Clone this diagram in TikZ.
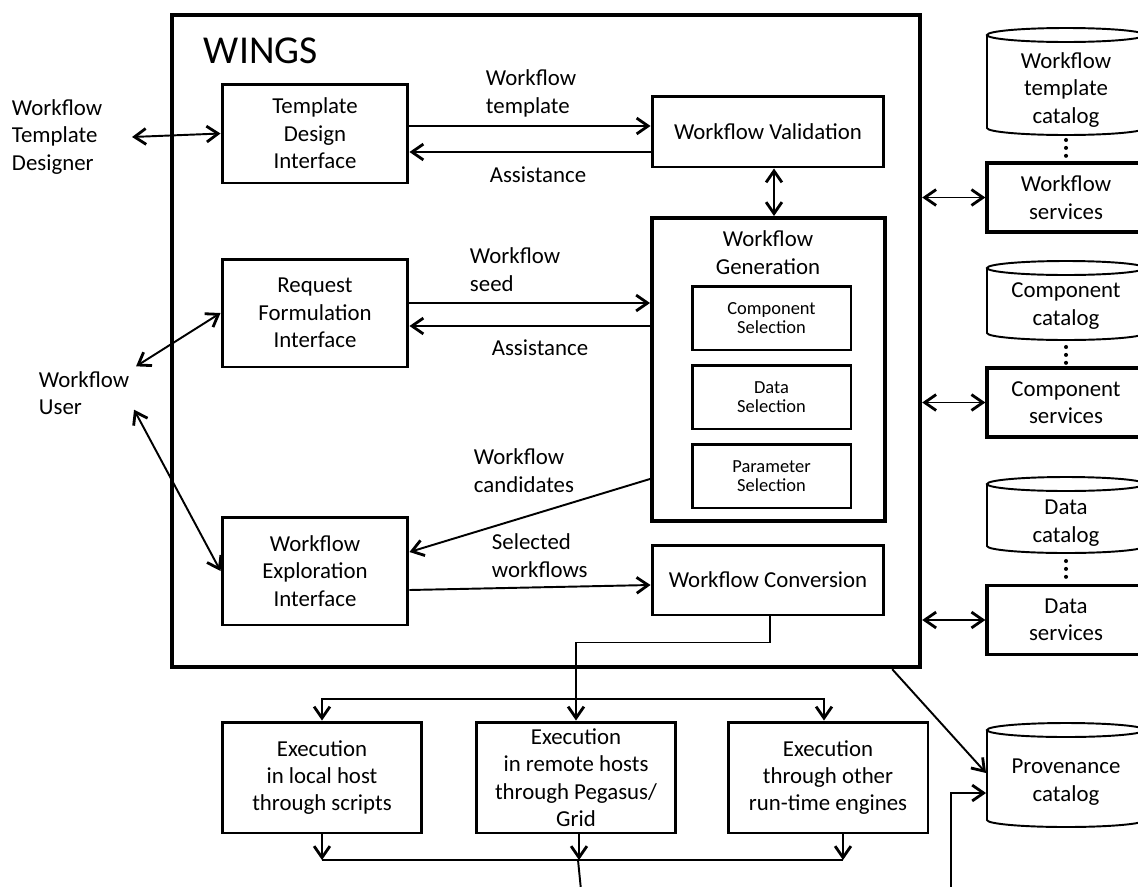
\documentclass[tikz,border=0pt]{standalone}
\usepackage{fontspec}
\setmainfont{Carlito}
\usetikzlibrary{arrows.meta}
\newcommand\boxfont{\fontsize{13}{15.6}\selectfont}
\newcommand\smallfont{\fontsize{10.5}{11}\selectfont}
\begin{document}
\begin{tikzpicture}[x=0.02cm,y=-0.02cm,line width=1.1pt,font=\boxfont,
  >={Straight Barb[length=6.5pt,width=9pt,line width=1.6pt]},
  every node/.style={align=center,inner sep=0pt},
  box/.style={draw,line width=1.7pt},
  serv/.style={draw,line width=1.9pt,minimum width=3.16cm,minimum height=1.38cm},
  sel/.style={draw,line width=1.7pt,minimum width=3.18cm,minimum height=1.28cm,font=\smallfont},
  exec/.style={draw,line width=1.7pt,minimum width=4cm,minimum height=2.22cm},
  cat/.style={minimum width=3.16cm},
  dots/.style={line width=2.3pt,line cap=round,dash pattern=on 0pt off 4.5pt}]
\useasboundingbox (0,0) rectangle (1138,886);
\clip (0,0) rectangle (1138,886);
% WINGS frame
\node[draw,line width=2.6pt,minimum width=14.96cm,minimum height=13.04cm] (wings) at (546,341) {};
\node[anchor=base west,font=\fontsize{22.5}{24}\selectfont] (title) at (203,63) {WINGS};
% users
\node[anchor=west,align=left] (designer) at (11,137) {Workflow\\Template\\Designer};
\node[anchor=west,align=left] (user) at (38,393) {Workflow\\User};
% interfaces
\node[box,minimum width=3.72cm,minimum height=1.98cm] (template) at (315,133.5) {Template\\Design\\Interface};
\node[box,minimum width=3.72cm,minimum height=2.16cm] (request) at (315,313) {Request\\Formulation\\Interface};
\node[box,minimum width=3.72cm,minimum height=2.16cm] (explore) at (315,571) {Workflow\\Exploration\\Interface};
% right column inside WINGS
\node[box,minimum width=4.64cm,minimum height=1.42cm] (valid) at (768,131.5) {Workflow Validation};
\node[draw,line width=2.3pt,minimum width=4.66cm,minimum height=6.06cm] (gen) at (768.5,369.5) {};
\node (gentitle) at (768,252.5) {Workflow\\Generation};
\node[sel] (compsel) at (771.5,318) {Component\\Selection};
\node[sel] (datasel) at (771.5,397) {Data\\Selection};
\node[sel] (parsel) at (771.5,476) {Parameter\\Selection};
\node[box,minimum width=4.64cm,minimum height=1.4cm] (convert) at (768,580) {Workflow Conversion};
% execution
\node[exec] (ex1) at (322,777.5) {Execution\\in local host\\through scripts};
\node[exec] (ex2) at (576,777.5) {Execution\\in remote hosts\\through Pegasus/\\Grid};
\node[exec] (ex3) at (828,777.5) {Execution\\through other\\run-time engines};
% catalogs and services
\draw (987,35) -- (987,128) arc[start angle=180,end angle=360,x radius=1.58cm,y radius=0.14cm] -- (1145,35);
\draw (1066,35) ellipse[x radius=1.58cm,y radius=0.14cm];
\node[cat] (wfcat) at (1066,90) {Workflow\\template\\catalog};
\node[serv] (wfserv) at (1066,197.5) {Workflow\\services};
\draw (987,268) -- (987,333) arc[start angle=180,end angle=360,x radius=1.58cm,y radius=0.14cm] -- (1145,268);
\draw (1066,268) ellipse[x radius=1.58cm,y radius=0.14cm];
\node[cat] (compcat) at (1066,306) {Component\\catalog};
\node[serv] (compserv) at (1066,402.5) {Component\\services};
\draw (987,484) -- (987,546) arc[start angle=180,end angle=360,x radius=1.58cm,y radius=0.14cm] -- (1145,484);
\draw (1066,484) ellipse[x radius=1.58cm,y radius=0.14cm];
\node[cat] (datacat) at (1066,523) {Data\\catalog};
\node[serv] (dataserv) at (1066,620) {Data\\services};
\draw (987,730) -- (987,820) arc[start angle=180,end angle=360,x radius=1.58cm,y radius=0.14cm] -- (1145,730);
\draw (1066,730) ellipse[x radius=1.58cm,y radius=0.14cm];
\node[cat] (prov) at (1066,782) {Provenance\\catalog};
\draw[dots] (1066,140) -- (wfserv.north);
\draw[dots] (1066,347) -- (compserv.north);
\draw[dots] (1066,561) -- (dataserv.north);
% labels
\node[anchor=west,align=left] (lwt) at (485,93.5) {Workflow\\template};
\node (la1) at (538,175) {Assistance};
\node[anchor=west,align=left] (lws) at (469,269.5) {Workflow\\seed};
\node (la2) at (540,348) {Assistance};
\node[anchor=west,align=left] (lwc) at (473,470.5) {Workflow\\candidates};
\node[anchor=west,align=left] (lsw) at (491,555.5) {Selected\\workflows};
% connectors
\draw[<->] ([xshift=0.58cm]designer.east) -- (template.west);
\draw[<->] ([shift={(0.12cm,0.08cm)}]user.north east) -- (request.west);
\draw[<->] ([shift={(0.08cm,0.12cm)}]user.south east) -- (explore.west);
\draw[->] ([yshift=0.15cm]template.east) -- ([yshift=0.15cm]template.east -| valid.west);
\draw[->] ([yshift=-0.37cm]template.east -| valid.west) -- ([yshift=-0.37cm]template.east);
\draw[<->] ([xshift=0.12cm]valid.south) -- ([xshift=0.12cm]valid.south |- gen.north);
\draw[->] ([yshift=0.2cm]request.east) -- ([yshift=0.2cm]request.east -| gen.west);
\draw[->] ([yshift=-0.26cm]request.east -| gen.west) -- ([yshift=-0.26cm]request.east);
\draw[->] ([yshift=-2.19cm]gen.west) -- ([yshift=0.38cm]explore.east);
\draw[->] ([yshift=-0.38cm]explore.east) -- ([yshift=-0.1cm]convert.west);
\draw[<->] (wfserv.west -| wings.east) -- (wfserv.west);
\draw[<->] (compserv.west -| wings.east) -- (compserv.west);
\draw[<->] (dataserv.west -| wings.east) -- (dataserv.west);
\draw[->] ([xshift=0.04cm]convert.south) -- ++(0,26) -| (ex2.north);
\coordinate (feed) at (576,699);
\draw[->] (feed) -| (ex1.north);
\draw[->] (feed) -| ([xshift=-0.08cm]ex3.north);
\coordinate (join) at (578,860);
\draw[->] (ex1.south) -- (ex1.south |- join);
\draw[->] ([xshift=0.06cm]ex2.south) -- ([xshift=0.06cm]ex2.south |- join);
\draw[->] ([xshift=0.3cm]ex3.south) -- ([xshift=0.3cm]ex3.south |- join);
\draw (ex1.south |- join) -- ([xshift=0.3cm]ex3.south |- join);
\coordinate (out) at (581,890);
\draw (join) -- (out);
\draw[->] ([xshift=-0.6cm]wings.south east) -- ([yshift=0.18cm]prov.west);
\coordinate (provin) at (951,890);
\draw[->] (provin) |- ([yshift=-0.22cm]prov.west);
\end{tikzpicture}
\end{document}
